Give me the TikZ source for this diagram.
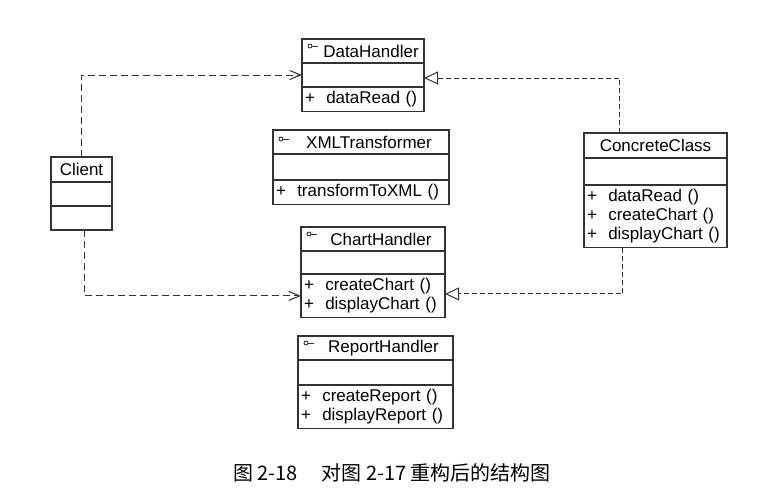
\documentclass[tikz,border=0pt]{standalone}
\usepackage{fontspec}
\usepackage{tikz}
\usetikzlibrary{arrows.meta}
\newfontfamily\umlfont{Liberation Sans}
\newfontfamily\cjk{Noto Sans CJK SC}

\tikzset{
	umlline/.style={draw=black!80, line width=1.2pt, outer sep=0pt},
	clsname/.style={umlline, rectangle, minimum height=24pt, inner sep=0pt, anchor=north west, font=\umlfont\fontsize{17}{19}\selectfont},
	clsattr/.style={umlline, rectangle, minimum height=24pt, inner sep=0pt, anchor=north},
	clsops/.style={umlline, rectangle, inner xsep=3pt, inner ysep=4.5pt, align=left, anchor=north, font=\umlfont\fontsize{17}{19}\selectfont},
	ifaceicon/.style={draw=black!80, line width=0.9pt},
	dep/.style={draw=black!80, line width=1pt, dash pattern=on 7pt off 4pt, -{Straight Barb[length=11pt, width=9pt, line width=1pt]}},
	real/.style={draw=black!80, line width=1pt, dash pattern=on 5pt off 3pt, -{Triangle[open, length=14pt, width=13pt, line width=1pt, fill=white]}}
}

\begin{document}
\begin{tikzpicture}[x=1pt, y=-1pt]
		\useasboundingbox (0,0) rectangle (765,496);

		\node[clsname, minimum width=122pt] (dh) at (302,39) {\hspace*{16pt}DataHandler};
		\node[clsattr, minimum width=122pt] (dh-attr) at (dh.south) {};
		\node[clsops, text width=116pt] (dh-ops) at (dh-attr.south) {+~~dataRead ()};
		\draw[ifaceicon] ([shift={(8,7)}]dh.north west) circle (2) ++(2,0.5) -- ++(6,0);

		\node[clsname, minimum width=176pt] (xml) at (273,130) {\hspace*{16pt}XMLTransformer};
		\node[clsattr, minimum width=176pt, minimum height=26pt] (xml-attr) at (xml.south) {};
		\node[clsops, text width=170pt] (xml-ops) at (xml-attr.south) {+~~transformToXML ()};
		\draw[ifaceicon] ([shift={(8,9)}]xml.north west) circle (2) ++(2,0.5) -- ++(6,0);

		\node[clsname, minimum width=61pt, minimum height=25pt] (cl) at (51,157) {Client};
		\node[clsattr, minimum width=61pt] (cl-attr) at (cl.south) {};
		\node[clsattr, minimum width=61pt] (cl-ops) at (cl-attr.south) {};

		\node[clsname, minimum width=143pt, minimum height=25pt] (cc) at (584,133) {ConcreteClass};
		\node[clsattr, minimum width=143pt, minimum height=27pt] (cc-attr) at (cc.south) {};
		\node[clsops, text width=137pt] (cc-ops) at (cc-attr.south) {+~~dataRead ()\\+~~createChart ()\\+~~displayChart ()};

		\node[clsname, minimum width=144pt] (ch) at (301,227) {\hspace*{16pt}ChartHandler};
		\node[clsattr, minimum width=144pt, minimum height=23pt] (ch-attr) at (ch.south) {};
		\node[clsops, text width=138pt] (ch-ops) at (ch-attr.south) {+~~createChart ()\\+~~displayChart ()};
		\draw[ifaceicon] ([shift={(8,7)}]ch.north west) circle (2) ++(2,0.5) -- ++(6,0);

		\node[clsname, minimum width=155pt] (rh) at (298,336) {\hspace*{16pt}ReportHandler};
		\node[clsattr, minimum width=155pt, minimum height=25pt] (rh-attr) at (rh.south) {};
		\node[clsops, text width=149pt] (rh-ops) at (rh-attr.south) {+~~createReport ()\\+~~displayReport ()};
		\draw[ifaceicon] ([shift={(8,7)}]rh.north west) circle (2) ++(2,0.5) -- ++(6,0);

		\draw[dep] (cl.north) |- (dh-attr.west);
		\draw[dep] ([xshift=3pt]cl-ops.south) |- (ch-ops.west);

		\draw[real] ([xshift=-36pt]cc.north) |- ([yshift=-3pt]dh-attr.east);
		\draw[real] ([xshift=-33pt]cc-ops.south) |- ([yshift=2pt]ch-ops.east);

		\node[font=\cjk\fontsize{20}{22}\selectfont] (caption) at (392,473) {图 2-18\hspace{24pt}对图 2-17 重构后的结构图};
\end{tikzpicture}
\end{document}
